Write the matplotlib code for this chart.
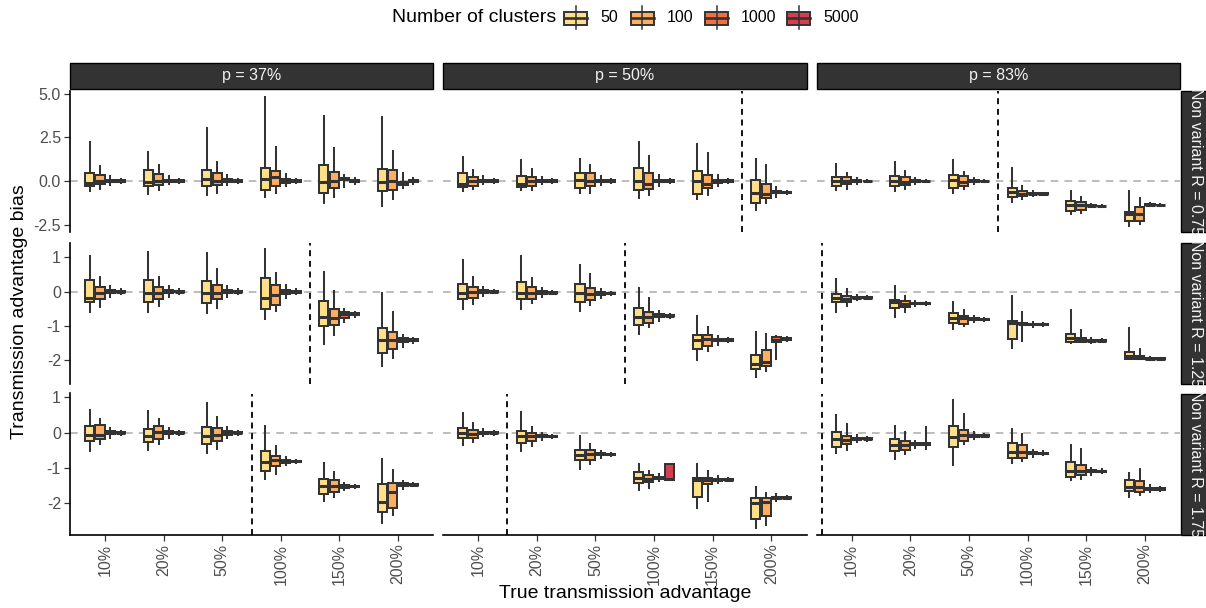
import numpy as np
import matplotlib.pyplot as plt
from matplotlib.patches import Rectangle
from matplotlib.lines import Line2D

plt.rcParams['font.family'] = ['Liberation Sans', 'DejaVu Sans']
plt.rcParams['axes.unicode_minus'] = False

advantages = ['10%', '20%', '50%', '100%', '150%', '200%']
cluster_sizes = ['50', '100', '1000', '5000']
cluster_colors = ['#FEE08B', '#FDAE61', '#F46D43', '#D53E4F']
p_labels = ['p = 37%', 'p = 50%', 'p = 83%']
r_labels = ['Non variant R = 0.75', 'Non variant R = 1.25', 'Non variant R = 1.75']

# bias summaries per advantage: (low whisker, q1, median, q3, high whisker)
p37_r075 = {
    '50':   [(-0.59, -0.29, -0.11, 0.46, 2.23), (-0.76, -0.30, -0.05, 0.61, 1.66), (-0.80, -0.29, 0.13, 0.65, 3.03),
             (-0.93, -0.49, 0.10, 0.74, 4.80), (-1.26, -0.66, -0.06, 0.90, 3.71), (-1.43, -0.59, -0.06, 0.69, 3.70)],
    '100':  [(-0.47, -0.19, 0.00, 0.37, 0.84), (-0.49, -0.21, 0.00, 0.42, 0.94), (-0.68, -0.21, 0.00, 0.46, 1.09),
             (-0.66, -0.29, 0.23, 0.55, 1.94), (-0.91, -0.40, 0.00, 0.51, 1.89), (-1.03, -0.53, 0.00, 0.61, 1.70)],
    '1000': [(-0.22, -0.07, 0.00, 0.08, 0.30), (-0.20, -0.06, 0.00, 0.07, 0.28), (-0.25, -0.08, 0.00, 0.10, 0.35),
             (-0.28, -0.09, 0.00, 0.12, 0.40), (-0.35, 0.03, 0.10, 0.19, 0.33), (-0.40, -0.24, -0.13, -0.05, 0.45)],
    '5000': [(-0.10, -0.03, 0.00, 0.03, 0.10), (-0.10, -0.03, 0.00, 0.03, 0.10), (-0.12, -0.03, 0.00, 0.04, 0.12),
             (-0.12, -0.04, 0.00, 0.04, 0.14), (-0.15, -0.04, 0.00, 0.04, 0.15), (-0.16, -0.05, 0.00, 0.05, 0.16)],
}
p50_r075 = {
    '50':   [(-0.57, -0.34, -0.15, 0.48, 1.37), (-0.53, -0.34, -0.20, 0.30, 1.18), (-0.68, -0.38, 0.04, 0.46, 1.26),
             (-0.97, -0.53, 0.00, 0.74, 2.23), (-1.05, -0.72, 0.00, 0.59, 2.13), (-1.64, -1.26, -0.67, 0.08, 1.24)],
    '100':  [(-0.46, -0.30, -0.02, 0.25, 0.61), (-0.53, -0.30, 0.00, 0.23, 0.67), (-0.68, -0.30, 0.00, 0.46, 0.94),
             (-0.80, -0.45, -0.20, 0.45, 1.43), (-0.82, -0.38, -0.15, 0.36, 1.62), (-1.26, -0.97, -0.72, -0.17, 0.90)],
    '1000': [(-0.20, -0.06, 0.00, 0.06, 0.28), (-0.20, -0.06, 0.00, 0.06, 0.25), (-0.25, -0.07, 0.00, 0.07, 0.30),
             (-0.28, -0.08, 0.00, 0.08, 0.35), (-0.30, -0.09, -0.02, 0.07, 0.35), (-0.90, -0.70, -0.62, -0.55, -0.35)],
    '5000': [(-0.10, -0.03, 0.00, 0.03, 0.10), (-0.10, -0.03, 0.00, 0.03, 0.10), (-0.11, -0.03, 0.00, 0.03, 0.11),
             (-0.12, -0.04, 0.00, 0.04, 0.12), (-0.13, -0.04, 0.00, 0.04, 0.13), (-0.72, -0.67, -0.64, -0.61, -0.56)],
}
p83_r075 = {
    '50':   [(-0.50, -0.27, 0.00, 0.23, 0.95), (-0.59, -0.30, 0.00, 0.29, 1.12), (-0.67, -0.38, 0.08, 0.32, 1.18),
             (-1.20, -0.91, -0.65, -0.40, 0.76), (-1.92, -1.71, -1.35, -1.16, -0.59), (-2.56, -2.29, -1.92, -1.77, -0.59)],
    '100':  [(-0.44, -0.20, 0.00, 0.23, 0.46), (-0.44, -0.25, -0.06, 0.23, 0.57), (-0.44, -0.30, -0.06, 0.27, 0.53),
             (-1.05, -0.85, -0.72, -0.58, -0.30), (-1.83, -1.64, -1.35, -1.20, -0.91), (-2.44, -2.30, -1.90, -1.49, -1.00)],
    '1000': [(-0.15, -0.05, 0.00, 0.05, 0.15), (-0.15, -0.05, 0.00, 0.05, 0.15), (-0.16, -0.05, 0.00, 0.05, 0.16),
             (-0.85, -0.76, -0.72, -0.68, -0.60), (-1.52, -1.46, -1.43, -1.40, -1.33), (-1.45, -1.40, -1.37, -1.34, -1.28)],
    '5000': [(-0.06, -0.02, 0.00, 0.02, 0.06), (-0.06, -0.02, 0.00, 0.02, 0.06), (-0.06, -0.02, 0.00, 0.02, 0.06),
             (-0.76, -0.74, -0.72, -0.70, -0.68), (-1.47, -1.45, -1.43, -1.41, -1.39), (-1.41, -1.39, -1.37, -1.35, -1.33)],
}
p37_r125 = {
    '50':   [(-0.58, -0.31, -0.17, 0.34, 1.05), (-0.58, -0.29, -0.03, 0.34, 1.17), (-0.62, -0.33, -0.03, 0.30, 1.12),
             (-0.80, -0.49, -0.18, 0.39, 1.25), (-1.51, -0.99, -0.73, -0.28, 0.58), (-2.18, -1.80, -1.41, -1.06, -0.03)],
    '100':  [(-0.44, -0.21, -0.05, 0.13, 0.42), (-0.41, -0.21, -0.03, 0.13, 0.42), (-0.48, -0.22, -0.03, 0.20, 0.66),
             (-0.56, -0.38, -0.10, 0.19, 0.54), (-1.26, -0.97, -0.77, -0.51, 0.02), (-1.94, -1.68, -1.41, -1.16, -0.60)],
    '1000': [(-0.15, -0.05, 0.00, 0.05, 0.16), (-0.15, -0.05, 0.00, 0.05, 0.16), (-0.16, -0.05, 0.00, 0.05, 0.17),
             (-0.18, -0.06, 0.00, 0.06, 0.20), (-0.87, -0.77, -0.66, -0.59, -0.51), (-1.60, -1.48, -1.42, -1.35, -1.25)],
    '5000': [(-0.07, -0.02, 0.00, 0.02, 0.07), (-0.07, -0.02, 0.00, 0.02, 0.07), (-0.07, -0.02, 0.00, 0.02, 0.07),
             (-0.08, -0.03, 0.00, 0.03, 0.08), (-0.74, -0.69, -0.66, -0.63, -0.58), (-1.50, -1.45, -1.42, -1.39, -1.34)],
}
p50_r125 = {
    '50':   [(-0.51, -0.21, -0.03, 0.22, 0.94), (-0.51, -0.21, -0.03, 0.29, 1.05), (-0.56, -0.29, -0.03, 0.24, 0.77),
             (-1.24, -0.97, -0.73, -0.48, 0.11), (-2.00, -1.67, -1.41, -1.26, -0.70), (-2.49, -2.26, -2.10, -1.85, -1.16)],
    '100':  [(-0.36, -0.17, 0.00, 0.15, 0.42), (-0.32, -0.20, -0.03, 0.15, 0.39), (-0.38, -0.24, -0.07, 0.11, 0.51),
             (-1.04, -0.90, -0.73, -0.58, -0.18), (-1.74, -1.58, -1.38, -1.26, -1.04), (-2.30, -2.16, -2.06, -1.71, -1.24)],
    '1000': [(-0.12, -0.04, 0.00, 0.04, 0.14), (-0.15, -0.07, -0.03, 0.01, 0.10), (-0.18, -0.09, -0.05, -0.01, 0.08),
             (-0.85, -0.75, -0.70, -0.65, -0.55), (-1.55, -1.45, -1.41, -1.37, -1.28), (-1.97, -1.48, -1.41, -1.33, -1.30)],
    '5000': [(-0.05, -0.02, 0.00, 0.02, 0.05), (-0.08, -0.05, -0.03, -0.01, 0.02), (-0.10, -0.07, -0.05, -0.03, 0.00),
             (-0.76, -0.72, -0.70, -0.68, -0.64), (-1.47, -1.43, -1.41, -1.39, -1.35), (-1.44, -1.40, -1.38, -1.36, -1.32)],
}
p83_r125 = {
    '50':   [(-0.58, -0.31, -0.17, -0.07, 0.37), (-0.73, -0.48, -0.31, -0.24, 0.18), (-1.09, -0.90, -0.77, -0.63, -0.31),
             (-1.63, -1.38, -0.90, -0.85, -0.12), (-1.50, -1.46, -1.36, -1.22, -0.53), (-1.97, -1.95, -1.87, -1.77, -1.06)],
    '100':  [(-0.41, -0.31, -0.21, -0.12, 0.08), (-0.58, -0.45, -0.36, -0.28, -0.12), (-0.99, -0.95, -0.77, -0.70, -0.53),
             (-1.45, -0.95, -0.93, -0.90, -0.58), (-1.48, -1.46, -1.41, -1.36, -1.13), (-1.97, -1.95, -1.92, -1.87, -1.68)],
    '1000': [(-0.25, -0.19, -0.17, -0.15, -0.09), (-0.42, -0.36, -0.34, -0.32, -0.26), (-0.88, -0.82, -0.80, -0.78, -0.72),
             (-1.02, -0.97, -0.95, -0.93, -0.88), (-1.50, -1.45, -1.43, -1.41, -1.36), (-2.00, -1.96, -1.95, -1.94, -1.90)],
    '5000': [(-0.21, -0.18, -0.17, -0.16, -0.13), (-0.38, -0.35, -0.34, -0.33, -0.30), (-0.84, -0.81, -0.80, -0.79, -0.76),
             (-0.99, -0.96, -0.95, -0.94, -0.91), (-1.47, -1.44, -1.43, -1.42, -1.39), (-1.98, -1.96, -1.95, -1.94, -1.92)],
}
p37_r175 = {
    '50':   [(-0.52, -0.22, -0.05, 0.18, 0.65), (-0.50, -0.27, -0.10, 0.11, 0.62), (-0.58, -0.33, -0.08, 0.16, 0.85),
             (-1.32, -1.07, -0.83, -0.52, 0.18), (-1.94, -1.73, -1.52, -1.30, -0.86), (-2.56, -2.25, -1.97, -1.45, -0.74)],
    '100':  [(-0.31, -0.17, -0.05, 0.21, 0.40), (-0.33, -0.17, 0.02, 0.19, 0.40), (-0.45, -0.22, -0.05, 0.13, 0.45),
             (-1.18, -0.93, -0.78, -0.67, -0.38), (-1.82, -1.68, -1.52, -1.33, -1.10), (-2.34, -2.13, -1.68, -1.43, -1.05)],
    '1000': [(-0.14, -0.04, 0.00, 0.04, 0.14), (-0.14, -0.04, 0.00, 0.04, 0.14), (-0.15, -0.05, 0.00, 0.05, 0.15),
             (-0.92, -0.85, -0.81, -0.77, -0.70), (-1.62, -1.56, -1.52, -1.48, -1.42), (-1.60, -1.52, -1.47, -1.42, -1.37)],
    '5000': [(-0.06, -0.02, 0.00, 0.02, 0.06), (-0.06, -0.02, 0.00, 0.02, 0.06), (-0.06, -0.02, 0.00, 0.02, 0.06),
             (-0.86, -0.83, -0.81, -0.79, -0.76), (-1.57, -1.54, -1.52, -1.50, -1.47), (-1.52, -1.49, -1.47, -1.45, -1.42)],
}
p50_r175 = {
    '50':   [(-0.34, -0.14, 0.00, 0.14, 0.56), (-0.52, -0.28, -0.10, 0.05, 0.59), (-1.02, -0.78, -0.64, -0.50, -0.08),
             (-1.61, -1.43, -1.27, -1.12, -0.88), (-2.12, -1.82, -1.35, -1.27, -0.88), (-2.70, -2.44, -1.99, -1.84, -1.54)],
    '100':  [(-0.26, -0.14, -0.03, 0.08, 0.28), (-0.38, -0.24, -0.10, 0.00, 0.16), (-0.88, -0.77, -0.61, -0.50, -0.31),
             (-1.56, -1.40, -1.30, -1.21, -1.07), (-1.94, -1.46, -1.33, -1.29, -1.09), (-2.60, -2.37, -1.96, -1.84, -1.71)],
    '1000': [(-0.10, -0.03, 0.00, 0.03, 0.10), (-0.20, -0.13, -0.10, -0.07, 0.00), (-0.71, -0.64, -0.61, -0.58, -0.51),
             (-1.37, -1.30, -1.27, -1.24, -1.17), (-1.43, -1.36, -1.33, -1.30, -1.23), (-1.94, -1.87, -1.84, -1.81, -1.74)],
    '5000': [(-0.05, -0.02, 0.00, 0.02, 0.05), (-0.15, -0.12, -0.10, -0.08, -0.05), (-0.66, -0.63, -0.61, -0.59, -0.56),
             (-1.33, -1.33, -1.32, -0.88, -0.88), (-1.38, -1.35, -1.33, -1.31, -1.28), (-1.89, -1.86, -1.84, -1.82, -1.79)],
}
p83_r175 = {
    '50':   [(-0.58, -0.40, -0.17, 0.02, 0.49), (-0.75, -0.52, -0.36, -0.17, 0.18), (-0.92, -0.40, -0.12, 0.19, 0.93),
             (-0.86, -0.71, -0.55, -0.29, 0.11), (-1.35, -1.26, -1.07, -0.83, -0.36), (-1.82, -1.66, -1.54, -1.35, -1.13)],
    '100':  [(-0.50, -0.33, -0.20, -0.08, 0.24), (-0.60, -0.50, -0.36, -0.22, 0.02), (-0.31, -0.22, -0.06, 0.08, 0.52),
             (-0.81, -0.71, -0.55, -0.36, -0.03), (-1.32, -1.21, -1.07, -0.90, -0.45), (-1.77, -1.68, -1.54, -1.37, -1.02)],
    '1000': [(-0.27, -0.20, -0.17, -0.14, -0.07), (-0.43, -0.36, -0.33, -0.30, -0.23), (-0.18, -0.11, -0.08, -0.05, 0.02),
             (-0.68, -0.61, -0.58, -0.55, -0.48), (-1.19, -1.12, -1.09, -1.06, -0.99), (-1.69, -1.62, -1.59, -1.56, -1.49)],
    '5000': [(-0.22, -0.19, -0.17, -0.15, -0.12), (-0.45, -0.36, -0.33, -0.30, 0.16), (-0.13, -0.10, -0.08, -0.06, -0.03),
             (-0.63, -0.60, -0.58, -0.56, -0.53), (-1.14, -1.11, -1.09, -1.07, -1.04), (-1.64, -1.61, -1.59, -1.57, -1.54)],
}

# rows = non variant R, columns = p
panels = [[p37_r075, p50_r075, p83_r075],
          [p37_r125, p50_r125, p83_r125],
          [p37_r175, p50_r175, p83_r175]]

# dashed separator position (between advantage categories), None = no separator
cutoffs = [[None, 4.5, 2.5],
           [3.5, 2.5, -0.5],
           [2.5, 0.5, -0.5]]

y_ticks = [[-2.5, 0.0, 2.5, 5.0], [-2, -1, 0, 1], [-2, -1, 0, 1]]
y_ticklabels = [['-2.5', '0.0', '2.5', '5.0'], ['-2', '-1', '0', '1'], ['-2', '-1', '0', '1']]

# ---- layout (pixels) ----
W, H = 1206, 608
fig = plt.figure(figsize=(W / 100, H / 100), dpi=100)
fig.patch.set_facecolor('white')

col_x = [(70, 433), (443, 806.5), (816.5, 1180)]
row_y = [(91, 232), (242.5, 383.5), (393.5, 534.5)]


def px_rect(x0, x1, y0, y1):
    return [x0 / W, 1 - y1 / H, (x1 - x0) / W, (y1 - y0) / H]


offsets = [-0.264, -0.088, 0.088, 0.264]
box_w = 0.155
edge = '#333333'
tick_grey = '#4D4D4D'
x = np.arange(len(advantages))

for i, row in enumerate(panels):
    # free y scale per row with 5% padding
    vals = [v for p in row for k in cluster_sizes for s in p[k] for v in s]
    lo, hi = min(vals), max(vals)
    pad = 0.05 * (hi - lo)
    for j, data in enumerate(row):
        ax = fig.add_axes(px_rect(*col_x[j], *row_y[i]))
        ax.axhline(0, color='#ABABAB', lw=1.1, dashes=(5, 4), zorder=0)
        for k, size in enumerate(cluster_sizes):
            stats = [dict(whislo=s[0], q1=s[1], med=s[2], q3=s[3], whishi=s[4]) for s in data[size]]
            ax.bxp(stats, positions=x + offsets[k], widths=box_w, patch_artist=True,
                   showfliers=False, showcaps=False, manage_ticks=False,
                   boxprops=dict(facecolor=cluster_colors[k], edgecolor=edge, linewidth=1.45),
                   whiskerprops=dict(color=edge, linewidth=1.45),
                   medianprops=dict(color=edge, linewidth=2.2, solid_capstyle='butt'))
        if cutoffs[i][j] is not None:
            ax.axvline(cutoffs[i][j], color='black', lw=1.3, dashes=(3.3, 2.6), zorder=1)
        ax.set_xlim(-0.6, len(advantages) - 0.4)
        ax.set_ylim(lo - pad, hi + pad)
        for side in ['top', 'right', 'left', 'bottom']:
            ax.spines[side].set_visible(False)
        ax.tick_params(length=0, labelleft=False, labelbottom=False)
        if j == 0:
            ax.spines['left'].set_visible(True)
            ax.spines['left'].set_linewidth(1.2)
            ax.set_yticks(y_ticks[i])
            ax.set_yticklabels(y_ticklabels[i])
            ax.tick_params(axis='y', length=4.5, width=0.9, color='#333333', pad=2,
                           labelleft=True, labelsize=11.5, labelcolor=tick_grey)
        else:
            ax.set_yticks([])
        if i == len(panels) - 1:
            ax.spines['bottom'].set_visible(True)
            ax.spines['bottom'].set_linewidth(1.2)
            ax.set_xticks(x)
            ax.set_xticklabels(advantages, rotation=90)
            ax.tick_params(axis='x', length=4.5, width=0.9, color='#333333', pad=2,
                           labelbottom=True, labelsize=11.5, labelcolor=tick_grey)
        else:
            ax.set_xticks([])

# ---- strips, legend and titles on a pixel overlay ----
ov = fig.add_axes([0, 0, 1, 1])
ov.set_xlim(0, W)
ov.set_ylim(H, 0)
ov.axis('off')

for j, lab in enumerate(p_labels):
    x0, x1 = col_x[j]
    ov.add_patch(Rectangle((x0, 62.5), x1 - x0, 26.5, facecolor='#333333', edgecolor='black', lw=1.0))
    ov.text((x0 + x1) / 2, 75.5, lab, ha='center', va='center', fontsize=11.5, color='#F2F2F2')

for i, lab in enumerate(r_labels):
    y0, y1 = row_y[i]
    ov.add_patch(Rectangle((1181, y0), 32, y1 - y0, facecolor='#333333', edgecolor='black', lw=1.0))
    ov.text(1195.5, (y0 + y1) / 2, lab, ha='center', va='center', rotation=-90,
            fontsize=11.5, color='#F2F2F2')

# legend
ov.text(392.5, 17.5, 'Number of clusters', ha='left', va='center', fontsize=14)
key_x = [564, 630.7, 705, 787]
for k, size in enumerate(cluster_sizes):
    kx = key_x[k]
    ov.add_line(Line2D([kx + 11.5, kx + 11.5], [6, 29], color=edge, lw=1.1))
    ov.add_patch(Rectangle((kx, 11.5), 23, 13.5, facecolor=cluster_colors[k], edgecolor=edge, lw=1.4))
    ov.add_line(Line2D([kx, kx + 23], [18.3, 18.3], color=edge, lw=1.9))
    ov.text(kx + 36, 18, size, ha='left', va='center', fontsize=11.5)

ov.text(20, 312, 'Transmission advantage bias', rotation=90, ha='center', va='center', fontsize=14)
ov.text(625, 594, 'True transmission advantage', ha='center', va='center', fontsize=14)

fig.savefig('out.png', dpi=100)
